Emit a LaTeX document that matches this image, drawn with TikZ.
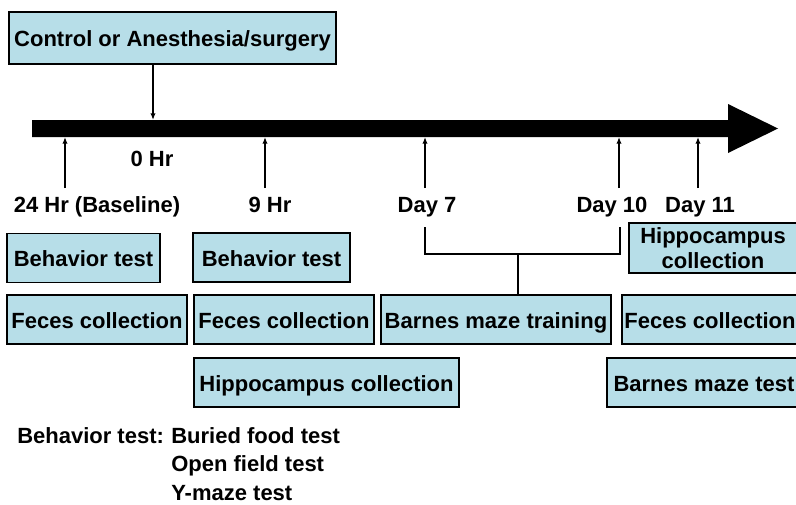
\documentclass[tikz,border=0pt]{standalone}
\usepackage{fontspec}
\setmainfont{Liberation Sans}
\usetikzlibrary{arrows.meta}
\definecolor{boxblue}{HTML}{B7DEE8}
\begin{document}
\begin{tikzpicture}[x=0.75pt,y=-0.75pt]

\useasboundingbox (0,0) rectangle (796,504);

%styles
\tikzstyle{stepbox} = [draw=black, line width=1.4pt, rectangle, fill=boxblue, text centered, inner sep=0pt, minimum height=36.75pt, font=\bfseries\fontsize{16.5}{19}\selectfont]
\tikzstyle{onebox} = [stepbox, text height=14.5pt, text depth=1.5pt]
\tikzstyle{timelabel} = [inner sep=0pt, anchor=base, font=\bfseries\fontsize{16.5}{19}\selectfont]
\tikzstyle{keyline} = [timelabel, anchor=base west]
\tikzstyle{tick} = [line width=1.1pt, -{Latex[length=5pt,width=4pt]}]

%time line
\fill (32,120) -- (728,120) -- (728,104) -- (778,128.5) -- (728,153) -- (728,137) -- (32,137) -- cycle;
\coordinate (zero) at (153,120);
\coordinate (barbot) at (0,137);

%treatment
\node (ctrl) [onebox, minimum width=245.25pt, minimum height=39pt] at (172.5,38) {Control or Anesthesia/surgery};
\draw[tick] (ctrl.south -| zero) -- (zero);

%time points
\node (lbl0)  [timelabel] at (152,166) {0 Hr};
\node (lbl24) [timelabel] at (97,212)  {24 Hr (Baseline)};
\node (lbl9)  [timelabel] at (270,212) {9 Hr};
\node (lbl7)  [timelabel] at (427,212) {Day 7};
\node (lbl10) [timelabel] at (612,212) {Day 10};
\node (lbl11) [timelabel] at (700,212) {Day 11};

\foreach \n/\x in {t24/65, t9/265, t7/425, t10/619, t11/698} {
  \coordinate (\n) at (\x,188);
  \draw[tick] (\n) -- (\n |- barbot);
}

%tasks
\node (behav1) [onebox, minimum width=114.75pt] at (83.5,258)    {Behavior test};
\node (feces1) [onebox, minimum width=135pt]    at (97,319.5)    {Feces collection};
\node (behav2) [onebox, minimum width=117.75pt] at (271.5,257.5) {Behavior test};
\node (feces2) [onebox, minimum width=135pt]    at (284,319.5)   {Feces collection};
\node (hippo1) [onebox, minimum width=198.75pt] at (326.5,382.5) {Hippocampus collection};
\node (train)  [onebox, minimum width=172.5pt]  at (496,319.5)   {Barnes maze training};
\node (hippo2) [stepbox, minimum width=126pt, minimum height=37.5pt, align=center] at (713,248) {Hippocampus\\collection};
\node (feces3) [onebox, minimum width=132pt]    at (710,319.5)   {Feces collection};
\node (btest)  [onebox, minimum width=145.5pt]  at (704,382.5)   {Barnes maze test};

%training bracket
\coordinate (brL) at (425,227);
\coordinate (brR) at (620,227);
\coordinate (brM) at (518,254);
\draw[line width=1.1pt] (brL) -- (brL |- brM) -- (brR |- brM) -- (brR);
\draw[line width=1.1pt] (brM) -- (brM |- train.north);

%legend
\node (key)  [keyline] at (17,443)    {Behavior test:};
\node (key1) [keyline] at (171,443)   {Buried food test};
\node (key2) [keyline] at (171,471.5) {Open field test};
\node (key3) [keyline] at (171,500)   {Y-maze test};

\end{tikzpicture}
\end{document}
